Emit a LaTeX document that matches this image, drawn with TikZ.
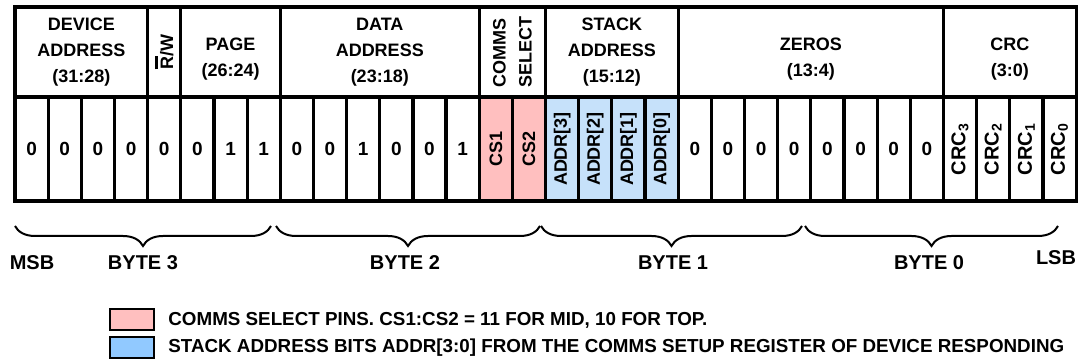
\documentclass[tikz,border=0pt]{standalone}
\usepackage{fontspec}
\setmainfont{Liberation Sans}
\usetikzlibrary{decorations.pathreplacing}
\definecolor{ink}{HTML}{000000}
\definecolor{csfill}{HTML}{FFBFBF}
\definecolor{addrfill}{HTML}{C6E1FA}
\definecolor{addrkey}{HTML}{91C9FF}
\newcommand{\rbar}{\rlap{\rule[7.7pt]{6.5pt}{1.5pt}}R}
\tikzset{
  every node/.style={font=\fontsize{9}{13}\selectfont\bfseries,text=ink},
  field/.style={draw=ink,line width=1.6pt,minimum width=#1*16.58pt,minimum height=45pt,inner sep=0pt,align=center},
  vfield/.style={draw=ink,line width=1.6pt,minimum width=45pt,minimum height=#1*16.58pt,inner sep=0pt,align=left,rotate=90},
  bit/.style={draw=ink,line width=1.6pt,minimum width=16.58pt,minimum height=52pt,inner sep=0pt,font=\fontsize{9.5}{12}\selectfont\bfseries},
  vbit/.style={bit,minimum width=52pt,minimum height=16.58pt,rotate=90,font=\fontsize{9}{12}\selectfont\bfseries},
  csbit/.style={vbit,fill=csfill},
  addrbit/.style={vbit,fill=addrfill},
  crcbit/.style={vbit,font=\fontsize{10}{12}\selectfont\bfseries},
  brace/.style={decorate,decoration={brace,amplitude=10pt,mirror},line width=1pt,draw=ink},
  bytelbl/.style={font=\fontsize{10}{12}\selectfont\bfseries},
  key/.style={draw=ink,line width=1.2pt,minimum width=22pt,minimum height=10.5pt,inner sep=0pt},
  keytext/.style={anchor=base west,inner sep=0pt,font=\fontsize{9.4}{11}\selectfont\bfseries},
}
\begin{document}
\begin{tikzpicture}[x=0.5pt,y=0.5pt]
  \useasboundingbox (0,0) rectangle (1079,363);
  % header fields
  \node[field=4] (devaddr) at ({15+33.16*2},311) {DEVICE\\ADDRESS\\(31:28)};
  \node[vfield=1] (rw) at ({15+33.16*4.5},311) {\rbar/W};
  \node[field=3] (page) at ({15+33.16*6.5},311) {\mbox{}\\PAGE\\(26:24)};
  \node[field=6] (dataaddr) at ({15+33.16*11},311) {DATA\\ADDRESS\\(23:18)};
  \node[vfield=2] (commsel) at ({15+33.16*15},311) {COMMS\\SELECT};
  \node[field=4] (stackaddr) at ({15+33.16*18},311) {STACK\\ADDRESS\\(15:12)};
  \node[field=8] (zeros) at ({15+33.16*24},311) {\mbox{}\\ZEROS\\(13:4)};
  \node[field=4] (crc) at ({15+33.16*30},311) {\mbox{}\\CRC\\(3:0)};

  % bit cells
  \foreach \v [count=\i from 0] in {0,0,0,0,0,0,1,1,0,0,1,0,0,1}
    \node[bit] (c\i) at ({15+33.16*(\i+0.5)},214) {\v};
  \foreach \v [count=\i from 14] in {CS1,CS2}
    \node[csbit] (c\i) at ({15+33.16*(\i+0.5)},214) {\v};
  \foreach \v [count=\i from 16] in {3,2,1,0}
    \node[addrbit] (c\i) at ({15+33.16*(\i+0.5)},214) {ADDR[\v]};
  \foreach \i in {20,...,27}
    \node[bit] (c\i) at ({15+33.16*(\i+0.5)},214) {0};
  \foreach \v [count=\i from 28] in {3,2,1,0}
    \node[crcbit] (c\i) at ({15+33.16*(\i+0.5)},214) {CRC\textsubscript{\v}};

  % byte braces
  \coordinate (byte3w) at (15,137);  \coordinate (byte3e) at (271,137);
  \coordinate (byte2w) at (276,137); \coordinate (byte2e) at (540,137);
  \coordinate (byte1w) at (541,137); \coordinate (byte1e) at (802,137);
  \coordinate (byte0w) at (805,137); \coordinate (byte0e) at (1058,137);
  \draw[brace] (byte3w) -- (byte3e);
  \draw[brace] (byte2w) -- (byte2e);
  \draw[brace] (byte1w) -- (byte1e);
  \draw[brace] (byte0w) -- (byte0e);
  \node[bytelbl] (msb) at (32,100) {MSB};
  \node[bytelbl] (byte3) at (143,100) {BYTE 3};
  \node[bytelbl] (byte2) at (405,100) {BYTE 2};
  \node[bytelbl] (byte1) at (673,100) {BYTE 1};
  \node[bytelbl] (byte0) at (929,100) {BYTE 0};
  \node[bytelbl] (lsb) at (1056,105) {LSB};

  % legend
  \node[key,fill=csfill] (cskey) at (132,43.5) {};
  \node[key,fill=addrkey] (addrkey) at (132,15.5) {};
  \node[keytext] (cstext) at (168,37) {COMMS SELECT PINS. CS1:CS2 = 11 FOR MID, 10 FOR TOP.};
  \node[keytext] (addrtext) at (168,10) {STACK ADDRESS BITS ADDR[3:0] FROM THE COMMS SETUP REGISTER OF DEVICE RESPONDING};
\end{tikzpicture}
\end{document}
